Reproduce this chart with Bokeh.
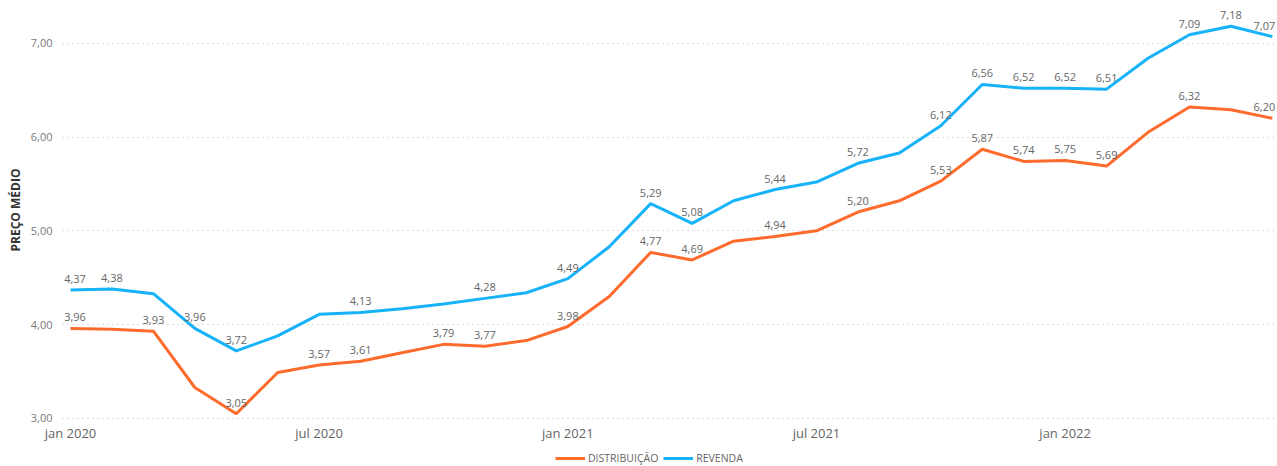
from bokeh.plotting import figure
from bokeh.layouts import column
from bokeh.models import ColumnDataSource, FixedTicker, Legend, LegendItem, Range1d
from bokeh.core.properties import value
from bokeh.embed import file_html
from bokeh.resources import INLINE

months = ["jan 2020", "fev 2020", "mar 2020", "abr 2020", "mai 2020", "jun 2020",
          "jul 2020", "ago 2020", "set 2020", "out 2020", "nov 2020", "dez 2020",
          "jan 2021", "fev 2021", "mar 2021", "abr 2021", "mai 2021", "jun 2021",
          "jul 2021", "ago 2021", "set 2021", "out 2021", "nov 2021", "dez 2021",
          "jan 2022", "fev 2022", "mar 2022", "abr 2022", "mai 2022", "jun 2022"]

distribuicao = [3.96, 3.95, 3.93, 3.33, 3.05, 3.49, 3.57, 3.61, 3.70, 3.79, 3.77, 3.83,
                3.98, 4.30, 4.77, 4.69, 4.89, 4.94, 5.00, 5.20, 5.32, 5.53, 5.87, 5.74,
                5.75, 5.69, 6.05, 6.32, 6.29, 6.20]

revenda = [4.37, 4.38, 4.33, 3.96, 3.72, 3.88, 4.11, 4.13, 4.17, 4.22, 4.28, 4.34,
           4.49, 4.83, 5.29, 5.08, 5.32, 5.44, 5.52, 5.72, 5.83, 6.12, 6.56, 6.52,
           6.52, 6.51, 6.84, 7.09, 7.18, 7.07]

dist_labeled = [0, 2, 4, 6, 7, 9, 10, 12, 14, 15, 17, 19, 21, 22, 23, 24, 25, 27, 29]
rev_labeled = [0, 1, 3, 4, 7, 10, 12, 14, 15, 17, 19, 21, 22, 23, 24, 25, 27, 28, 29]

series_names = ["DISTRIBUIÇÃO", "REVENDA"]
x_tick_idx = [0, 6, 12, 18, 24]
y_ticks = [3.0, 4.0, 5.0, 6.0, 7.0]

ORANGE = "#FF6B2D"
BLUE = "#16B2FA"
FONT = "Open Sans"

def fmt(v):
    return f"{v:.2f}".replace(".", ",")

x = list(range(len(months)))
last = len(months) - 1

p = figure(width=1276, height=445, output_backend="svg", toolbar_location=None,
           x_range=Range1d(-0.193, 29.10), y_range=Range1d(2.989, 7.455),
           min_border_left=62, min_border_right=0, min_border_top=0, min_border_bottom=26)
p.outline_line_color = None
p.background_fill_color = "white"
p.border_fill_color = "white"

src_d = ColumnDataSource(dict(x=x, y=distribuicao))
src_r = ColumnDataSource(dict(x=x, y=revenda))
p.line("x", "y", source=src_d, line_color=ORANGE, line_width=3)
p.line("x", "y", source=src_r, line_color=BLUE, line_width=3)

def label_source(vals, idx):
    # keep edge labels inside the plot area, as the original does
    offs = [4.5 if i == 0 else (-8 if i == last else 0) for i in idx]
    return ColumnDataSource(dict(x=[x[i] for i in idx],
                                 y=[vals[i] for i in idx],
                                 t=[fmt(vals[i]) for i in idx],
                                 dx=offs))

for s in (label_source(distribuicao, dist_labeled), label_source(revenda, rev_labeled)):
    p.text("x", "y", text="t", source=s, text_font=value(FONT),
           text_font_size="11px", text_color="#666666", text_align="center",
           text_baseline="alphabetic", y_offset=-11, x_offset="dx")

# x axis
xa = p.xaxis[0]
xa.ticker = FixedTicker(ticks=x_tick_idx)
xa.major_label_overrides = {i: months[i] for i in x_tick_idx}
xa.axis_line_color = None
xa.major_tick_line_color = None
xa.minor_tick_line_color = None
xa.major_tick_out = 0
xa.major_tick_in = 0
xa.major_label_standoff = 4
xa.major_label_text_font = FONT
xa.major_label_text_font_size = "13px"
xa.major_label_text_color = "#666666"

# y axis
ya = p.yaxis[0]
ya.ticker = FixedTicker(ticks=y_ticks)
ya.major_label_overrides = {v: fmt(v) for v in y_ticks}
ya.axis_line_color = None
ya.major_tick_line_color = None
ya.minor_tick_line_color = None
ya.major_tick_out = 0
ya.major_tick_in = 0
ya.major_label_standoff = 10
ya.major_label_text_font = FONT
ya.major_label_text_font_size = "11px"
ya.major_label_text_color = "#7A7A7A"
ya.axis_label = "PREÇO MÉDIO"
ya.axis_label_text_font = FONT
ya.axis_label_text_font_size = "12px"
ya.axis_label_text_font_style = "bold"
ya.axis_label_text_color = "#333333"
ya.axis_label_standoff = 4

p.xgrid.grid_line_color = None
p.ygrid.grid_line_color = "#BDBDBD"
p.ygrid.grid_line_dash = "1 4"
p.ygrid.grid_line_width = 1

# legend strip below the chart (its frame is aligned with the chart's frame)
lg = figure(width=1276, height=20, output_backend="svg", toolbar_location=None,
            x_range=Range1d(-100, -99), y_range=Range1d(-100, -99),
            min_border_left=0, min_border_right=0, min_border_top=0, min_border_bottom=0)
lg.outline_line_color = None
lg.axis.visible = False
lg.grid.visible = False
# same series, outside this strip's ranges: only their legend glyphs show
e_d = lg.line(x, distribuicao, line_color=ORANGE, line_width=3)
e_r = lg.line(x, revenda, line_color=BLUE, line_width=3)
legend = Legend(items=[LegendItem(label=series_names[0], renderers=[e_d]),
                       LegendItem(label=series_names[1], renderers=[e_r])],
                location=(493, 0), orientation="horizontal",
                border_line_color=None, background_fill_alpha=0,
                padding=0, margin=0, spacing=5,
                glyph_width=30, glyph_height=10, label_height=10,
                label_standoff=3, label_text_font=FONT,
                label_text_font_size="10.5px", label_text_color="#666666")
lg.add_layout(legend, "center")

layout = column(p, lg, spacing=0)
open("out.html", "w").write(file_html(layout, INLINE))
